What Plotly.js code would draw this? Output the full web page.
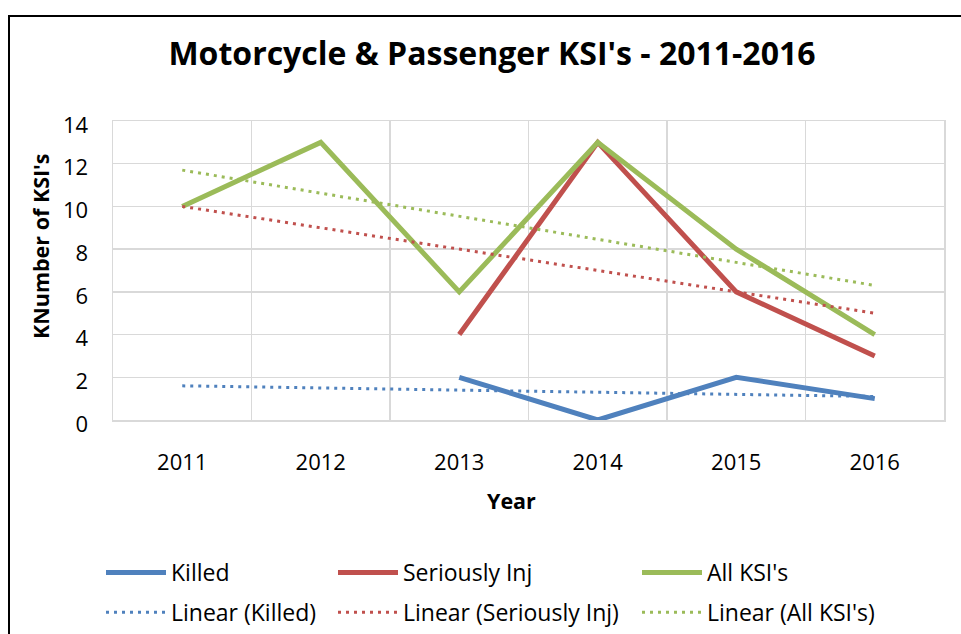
<!DOCTYPE html>
<html>
<head>
<meta charset="utf-8">
<script src="https://cdn.plot.ly/plotly-3.0.1.min.js"></script>
<style>
  html, body { margin: 0; padding: 0; background: #ffffff; }
  #chart { width: 961px; height: 634px; }
</style>
</head>
<body>
<div id="chart"></div>
<script>
// ---- data ----
const years = ['2011', '2012', '2013', '2014', '2015', '2016'];
const killed = [null, null, 2, 0, 2, 1];
const seriouslyInj = [null, null, 4, 13, 6, 3];
const allKSI = [10, 13, 6, 13, 8, 4];

// linear trend lines (start and end values)
const trendYears = ['2011', '2016'];
const trendKilled = [1.6, 1.1];
const trendSeriouslyInj = [10, 5];
const trendAllKSI = [11.7, 6.3];

const seriesNames = ['Killed', 'Seriously Inj', "All KSI's"];
const trendNames = ['Linear (Killed)', 'Linear (Seriously Inj)', "Linear (All KSI's)"];
const colors = ['#4F81BD', '#C0504D', '#9BBB59'];

const chartTitle = "Motorcycle &amp; Passenger KSI's - 2011-2016";
const xTitle = 'Year';
const yTitle = "KNumber of KSI's";

const FONT = "'Open Sans', 'DejaVu Sans', sans-serif";

const mainValues = [killed, seriouslyInj, allKSI];
const trendValues = [trendKilled, trendSeriouslyInj, trendAllKSI];
const legendIds = ['legend', 'legend2', 'legend3'];

const traces = [];
mainValues.forEach((vals, i) => {
  traces.push({
    type: 'scatter', mode: 'lines',
    x: years, y: vals, name: seriesNames[i],
    line: { color: colors[i], width: 5 },
    connectgaps: false,
    legend: legendIds[i], legendgroup: 'm' + i, legendrank: 1
  });
});
trendValues.forEach((vals, i) => {
  traces.push({
    type: 'scatter', mode: 'lines',
    x: trendYears, y: vals, name: trendNames[i],
    line: { color: colors[i], width: 3, dash: '3px,5px' },
    legend: legendIds[i], legendgroup: 't' + i, legendrank: 2
  });
});

const plotL = 113, plotR = 944, plotT = 121, plotB = 420;
const W = 961, H = 634;
const px2paperX = p => (p - plotL) / (plotR - plotL);
const px2paperY = p => (plotB - p) / (plotB - plotT);

const legendBase = {
  orientation: 'v',
  xref: 'paper', yref: 'container',
  xanchor: 'left', yanchor: 'top',
  y: 1 - 551 / H,
  bgcolor: 'rgba(0,0,0,0)',
  borderwidth: 0,
  font: { family: FONT, size: 23, color: '#000000' },
  itemwidth: 60,
  tracegroupgap: 7,
  traceorder: 'grouped'
};

const layout = {
  width: W, height: H,
  margin: { l: plotL, r: W - plotR, t: plotT, b: H - plotB, pad: 0 },
  paper_bgcolor: '#ffffff',
  plot_bgcolor: '#ffffff',
  font: { family: FONT, color: '#000000' },
  title: {
    text: chartTitle,
    font: { family: FONT, size: 32, color: '#000000', weight: 'bold' },
    xref: 'container', yref: 'container',
    x: 492 / W, xanchor: 'center',
    y: 1 - 54 / H, yanchor: 'middle'
  },
  xaxis: {
    type: 'category',
    categoryorder: 'array', categoryarray: years,
    range: [-0.5, 5.5],
    tickson: 'boundaries',
    ticks: '',
    showgrid: true, gridcolor: '#d9d9d9', gridwidth: 1.5,
    showline: true, linecolor: '#d9d9d9', linewidth: 1.5, mirror: true,
    zeroline: false,
    automargin: false,
    tickfont: { family: FONT, size: 22, color: '#000000' },
    ticklabelstandoff: 22,
    fixedrange: true
  },
  yaxis: {
    range: [0, 14],
    dtick: 2, tick0: 0,
    ticks: '',
    showgrid: true, gridcolor: '#d9d9d9', gridwidth: 1.5,
    showline: true, linecolor: '#d9d9d9', linewidth: 1.5, mirror: true,
    zeroline: false,
    automargin: false,
    tickfont: { family: FONT, size: 22, color: '#000000' },
    ticklabelstandoff: 19,
    ticklabelshift: 4,
    fixedrange: true
  },
  annotations: [
    {
      text: xTitle, showarrow: false,
      xref: 'paper', yref: 'paper',
      x: px2paperX(511), y: px2paperY(500),
      xanchor: 'center', yanchor: 'middle',
      font: { family: FONT, size: 21.5, color: '#000000', weight: 'bold' }
    },
    {
      text: yTitle, showarrow: false, textangle: -90,
      xref: 'paper', yref: 'paper',
      x: px2paperX(40), y: px2paperY(246),
      xanchor: 'center', yanchor: 'middle',
      font: { family: FONT, size: 21.5, color: '#000000', weight: 'bold' }
    }
  ],
  legend: Object.assign({}, legendBase, { x: px2paperX(101) }),
  legend2: Object.assign({}, legendBase, { x: px2paperX(333) }),
  legend3: Object.assign({}, legendBase, { x: px2paperX(637) }),
  shapes: [{
    type: 'rect', xref: 'paper', yref: 'paper', layer: 'below',
    x0: px2paperX(9),
    x1: px2paperX(W + 40),
    y0: px2paperY(H + 40),
    y1: px2paperY(16),
    line: { color: '#000000', width: 2 },
    fillcolor: 'rgba(0,0,0,0)'
  }],
  showlegend: true
};

Plotly.newPlot('chart', traces, layout, { displayModeBar: false, staticPlot: true });
</script>
</body>
</html>
